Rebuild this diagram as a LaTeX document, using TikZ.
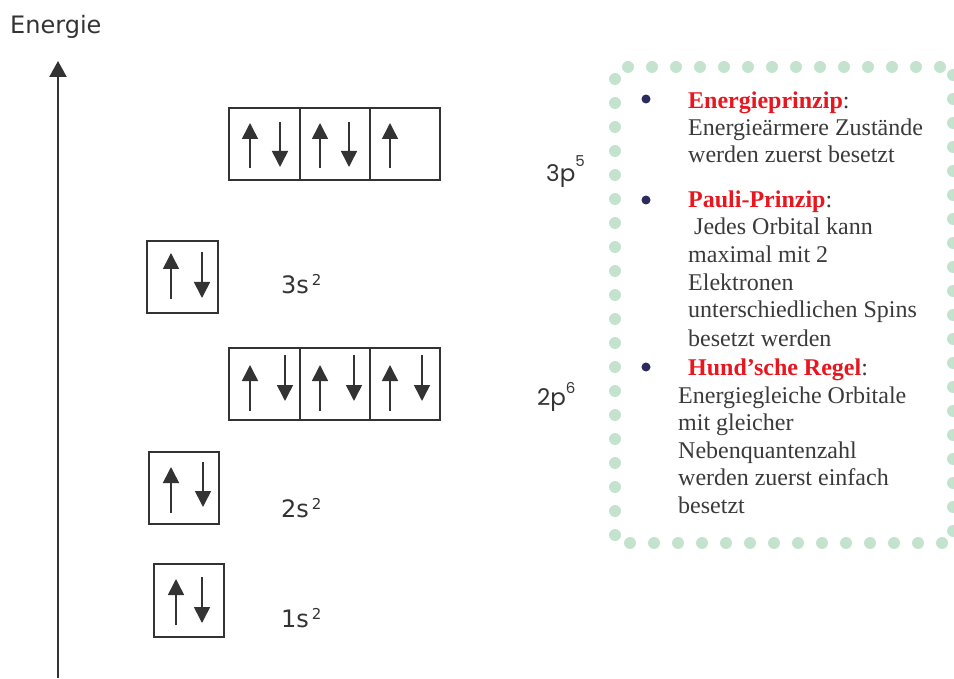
\documentclass[tikz,border=0pt]{standalone}
\usepackage{fontspec}
\setmainfont{Liberation Serif}
\newfontfamily\labfont{DejaVu Sans}
\newfontfamily\pfont{Poppins}
\usetikzlibrary{arrows.meta}
\definecolor{ink}{HTML}{333333}
\definecolor{dotgreen}{HTML}{C4E3CE}
\definecolor{hred}{HTML}{E8161E}
\definecolor{navy}{HTML}{2B2B5E}
\definecolor{txt}{HTML}{3A3A3A}
\newcommand{\supdig}[1]{\kern3pt\raisebox{8pt}{\fontsize{15}{15}\selectfont #1}}
\begin{document}
\begin{tikzpicture}[x=1pt,y=-1pt,
  orb/.style={draw=ink, line width=2pt, minimum height=72pt, anchor=north west, inner sep=0pt, outer sep=0pt},
  spin/.style={draw=ink, line width=1.6pt, -{Triangle[length=16pt,width=16pt]}},
  axisline/.style={draw=ink, line width=2.4pt, -{Triangle[length=16pt,width=17pt]}},
  lab/.style={anchor=base west, inner sep=0pt, text=ink, font=\labfont\fontsize{24}{24}\selectfont},
  plab/.style={anchor=base west, inner sep=0pt, text=ink, font=\pfont\fontsize{23}{23}\selectfont},
  tl/.style={anchor=base west, inner sep=0pt, text=txt, font=\fontsize{24}{27}\selectfont},
  bul/.style={circle, fill=navy, inner sep=0pt, minimum size=9pt},
  dot/.style={fill=dotgreen}
]
\useasboundingbox (0,0) rectangle (954,679);

% axis
\coordinate (axb) at (58,678);
\coordinate (axt) at (58,61);
\draw[axisline] (axb) -- (axt);
\node[lab] (energie) at (10,34) {Energie};

% 3p row
\node[orb, minimum width=71pt] (p31) at (229,108) {};
\node[orb, minimum width=70pt] (p32) at (300,108) {};
\node[orb, minimum width=70pt] (p33) at (370,108) {};
\draw[spin] (250,168) -- (250,123);
\draw[spin] (280,122) -- (280,167);
\draw[spin] (320,168) -- (320,123);
\draw[spin] (349,122) -- (349,167);
\draw[spin] (390,168) -- (390,123);

% 3s
\node[orb, minimum width=71pt] (s3) at (147,241) {};
\draw[spin] (171,299) -- (171,253);
\draw[spin] (202,252) -- (202,298);

% 2p row
\node[orb, minimum width=71pt] (p21) at (229,348) {};
\node[orb, minimum width=70pt] (p22) at (300,348) {};
\node[orb, minimum width=70pt] (p23) at (370,348) {};
\draw[spin] (250,411) -- (250,365);
\draw[spin] (285,355) -- (285,401);
\draw[spin] (320,411) -- (320,365);
\draw[spin] (354,355) -- (354,401);
\draw[spin] (390,411) -- (390,365);
\draw[spin] (422,355) -- (422,401);

% 2s
\node[orb, minimum width=70pt] (s2) at (149,452) {};
\draw[spin] (171,513) -- (171,467);
\draw[spin] (203,462) -- (203,507);

% 1s
\node[orb, minimum width=70pt, minimum height=73pt] (s1) at (154,564) {};
\draw[spin] (176,625) -- (176,579);
\draw[spin] (202,577) -- (202,623);

% labels
\node[lab] (l3s) at (281,294) {3s\supdig{2}};
\node[lab] (l2s) at (281,517) {2s\supdig{2}};
\node[lab] (l1s) at (281,627) {1s\supdig{2}};
\node[plab] (l3p) at (546,182) {3p\raisebox{15pt}{\fontsize{15}{15}\selectfont 5}};
\node[plab] (l2p) at (537,405) {2p\raisebox{12pt}{\fontsize{15}{15}\selectfont 6}};

% dotted frame
\foreach \i in {0,...,13} {
  \fill[dot] (628+24*\i,67) circle[radius=6pt];
  \fill[dot] (630+24*\i,543) circle[radius=6pt];
}
\foreach \i in {0,...,19} {
  \fill[dot] (615,79+24*\i) circle[radius=6pt];
  \fill[dot] (953,75+24*\i) circle[radius=6pt];
}

% bullets
\node[bul] (b1) at (646,99) {};
\node[bul] (b2) at (646,200) {};
\node[bul] (b3) at (646,367) {};

% text
\node[tl] (t1) at (688,109) {\textcolor{hred}{\textbf{Energieprinzip}}:};
\node[tl] (t2) at (688,136) {Energieärmere Zustände};
\node[tl] (t3) at (688,163) {werden zuerst besetzt};
\node[tl] (t4) at (688,208) {\textcolor{hred}{\textbf{Pauli-Prinzip}}:};
\node[tl] (t5) at (694,235) {Jedes Orbital kann};
\node[tl] (t6) at (688,263) {maximal mit 2};
\node[tl] (t7) at (688,291) {Elektronen};
\node[tl] (t8) at (688,318) {unterschiedlichen Spins};
\node[tl] (t9) at (688,346) {besetzt werden};
\node[tl] (t10) at (688,375) {\textcolor{hred}{\textbf{Hund’sche Regel}}:};
\node[tl] (t11) at (678,403) {Energiegleiche Orbitale};
\node[tl] (t12) at (678,430) {mit gleicher};
\node[tl] (t13) at (678,458) {Nebenquantenzahl};
\node[tl] (t14) at (678,485) {werden zuerst einfach};
\node[tl] (t15) at (678,513) {besetzt};
\end{tikzpicture}
\end{document}
